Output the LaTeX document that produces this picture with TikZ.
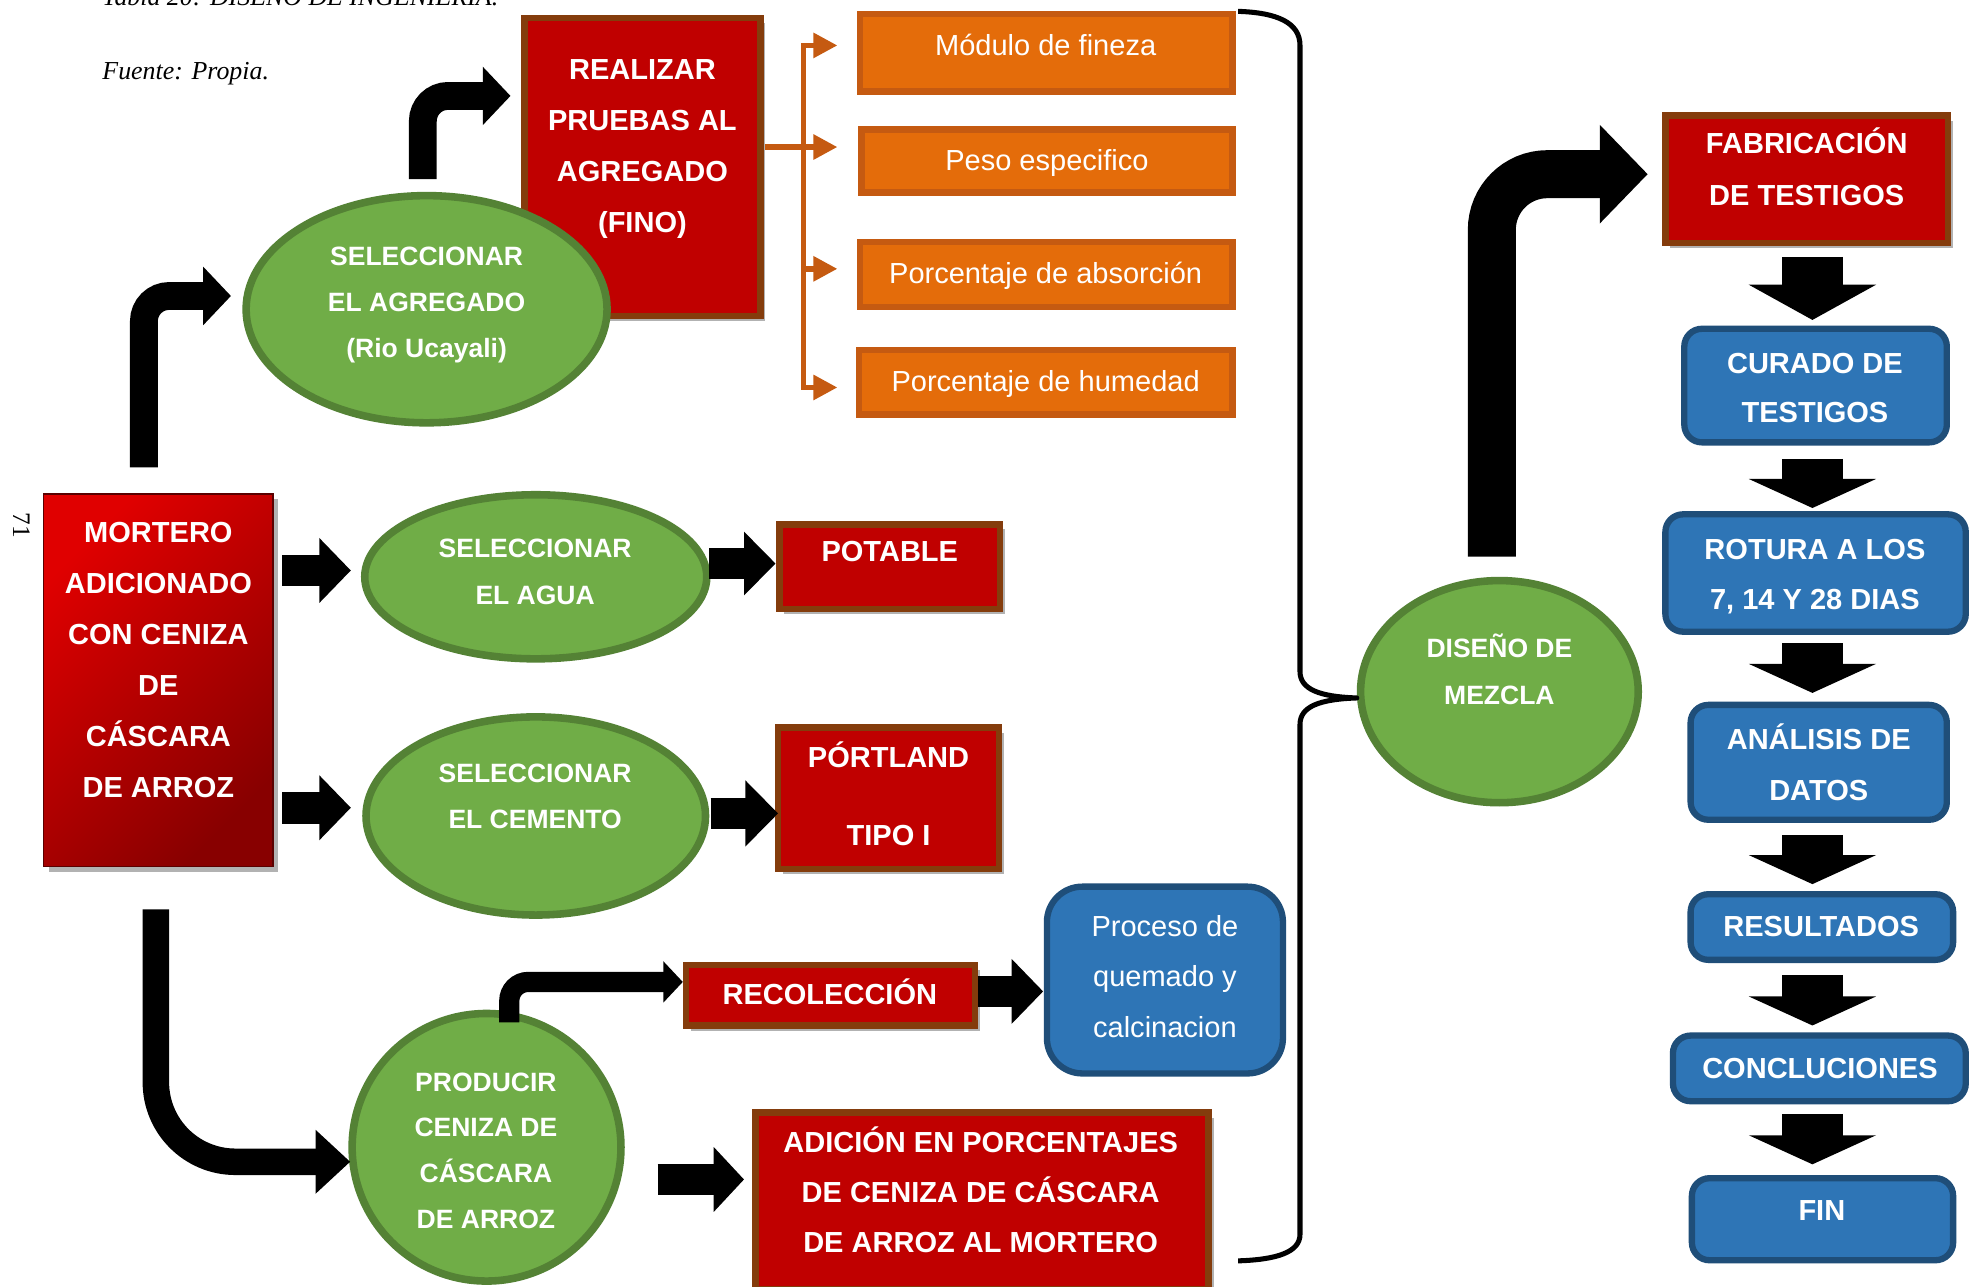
\documentclass[tikz,border=0pt]{standalone}
\usepackage{fontspec}
\newfontfamily\arialf{Liberation Sans}
\newfontfamily\tnrf{Liberation Serif}
\usetikzlibrary{shapes.geometric,arrows.meta,calc,shadows}
\definecolor{rd}{HTML}{C00000}
\definecolor{brn}{HTML}{843C0C}
\definecolor{grn}{HTML}{70AD47}
\definecolor{grnd}{HTML}{548235}
\definecolor{blu}{HTML}{2E75B6}
\definecolor{blud}{HTML}{1F4E79}
\definecolor{orf}{HTML}{E46C0A}
\definecolor{ord}{HTML}{C55A11}
\definecolor{mtop}{HTML}{E00000}
\definecolor{mbot}{HTML}{880000}
\definecolor{mbd}{HTML}{5A0000}
\begin{document}
\begin{tikzpicture}[x=1pt,y=-1pt,
  shd/.style={drop shadow={shadow xshift=4pt,shadow yshift=-4pt,opacity=0.3,fill=black}},
  rbox/.style={rectangle,draw=brn,line width=5pt,fill=rd,inner sep=0pt,shd},
  mbox/.style={rectangle,draw=mbd,line width=1.2pt,inner sep=0pt,top color=mtop,bottom color=mbot,shading angle=45,shd},
  gell/.style={ellipse,draw=grnd,line width=6pt,fill=grn,inner sep=0pt},
  bbox/.style={rectangle,draw=blud,line width=5pt,fill=blu,inner sep=0pt,rounded corners=14pt},
  obox/.style={rectangle,draw=ord,line width=5pt,fill=orf,inner sep=0pt},
  txt/.style={text=white,align=center,anchor=base,inner sep=0pt},
  tb/.style={txt,font=\arialf\bfseries\fontsize{23}{#1}\selectfont},
  tb/.default=40,
  te/.style={txt,font=\arialf\bfseries\fontsize{21}{#1}\selectfont},
  te/.default=37,
  tr/.style={txt,font=\arialf\fontsize{23}{#1}\selectfont},
  tr/.default=40,
  hdr/.style={inner sep=0pt,anchor=base west,font=\tnrf\itshape\fontsize{20.5}{24}\selectfont},
  blk/.style={draw=black,line cap=butt},
  oline/.style={draw=ord,line width=4.5pt},
  otip/.style={-{Triangle[width=19pt,length=19pt]}}
]
\useasboundingbox (0,0) rectangle (1568,1019);
\clip (0,0) rectangle (1568,1019);
\fill[white] (0,0) rectangle (1568,1019);

% header
\node[hdr] (cap) at (81,4) {Tabla 20: DISEÑO DE INGENIERIA.};
\node[hdr] (src) at (81,63) {Fuente: Propia.};
\node[inner sep=0pt,rotate=-90,font=\tnrf\fontsize{20}{22}\selectfont] (pg) at (17,416) {71};

% shapes
\node[rbox,minimum width=187pt,minimum height=236pt] (real) at (509,132.5) {};
\node[gell,minimum width=286pt,minimum height=180pt] (agr) at (338,245) {};
\node[mbox,minimum width=182pt,minimum height=295pt] (mort) at (125.5,539) {};
\node[gell,minimum width=271pt,minimum height=130pt] (agua) at (424.5,457) {};
\node[gell,minimum width=269pt,minimum height=157pt] (cem) at (424.5,646.5) {};
\node[rbox,minimum width=175pt,minimum height=67pt] (pot) at (705,449) {};
\node[rbox,minimum width=175pt,minimum height=112pt] (port) at (704,632.5) {};
\node[gell,minimum width=213pt,minimum height=212pt] (prod) at (385.5,909) {};
\node[rbox,minimum width=229pt,minimum height=48pt] (reco) at (658,788.5) {};
\node[bbox,rounded corners=28pt,minimum width=187pt,minimum height=148pt] (proc) at (923,776.5) {};
\node[rbox,minimum width=359pt,minimum height=140pt] (adic) at (778,951.5) {};
\node[obox,minimum width=295pt,minimum height=61.5pt] (ok1) at (829,41.75) {};
\node[obox,minimum width=294pt,minimum height=50pt] (ok2) at (829.5,127.5) {};
\node[obox,minimum width=295pt,minimum height=52pt] (ok3) at (829,217.5) {};
\node[obox,minimum width=296pt,minimum height=51pt] (ok4) at (828.5,303) {};
\node[gell,minimum width=220pt,minimum height=176pt] (dis) at (1188,548) {};
\node[rbox,minimum width=224pt,minimum height=101pt] (fab) at (1431.5,142) {};
\node[bbox,minimum width=208pt,minimum height=90pt] (cur) at (1438.5,305.5) {};
\node[bbox,minimum width=238pt,minimum height=93pt] (rot) at (1438.5,454) {};
\node[bbox,minimum width=203pt,minimum height=91pt] (ana) at (1441,604) {};
\node[bbox,minimum width=208pt,minimum height=52pt] (res) at (1443.5,734.5) {};
\node[bbox,minimum width=232pt,minimum height=52pt] (con) at (1441.5,846.5) {};
\node[bbox,minimum width=207pt,minimum height=65pt] (fin) at (1444,966) {};

% texts (anchor = baseline of the last line)
\node[tb=40.3] (t1) at (509,184) {REALIZAR\\PRUEBAS AL\\AGREGADO\\(FINO)};
\node[te=36.6] (t2) at (338,283.2) {SELECCIONAR\\EL AGREGADO\\(Rio Ucayali)};
\node[tb=40.4] (t3) at (125.5,631.5) {MORTERO\\ADICIONADO\\CON CENIZA\\DE\\CÁSCARA\\DE ARROZ};
\node[te=37.5] (t4) at (424,479) {SELECCIONAR\\EL AGUA};
\node[te=36.5] (t5) at (424,656.5) {SELECCIONAR\\EL CEMENTO};
\node[tb] (t6) at (705,445) {POTABLE};
\node[tb] (t7) at (704,670) {PÓRTLAND\\[22pt]TIPO I};
\node[te=36.2] (t8) at (385,973.1) {PRODUCIR\\CENIZA DE\\CÁSCARA\\DE ARROZ};
\node[tb] (t9) at (657.5,795.5) {RECOLECCIÓN};
\node[tr] (t10) at (923,822) {Proceso de\\quemado y\\calcinacion};
\node[tb=39.5] (t11) at (777,992) {ADICIÓN EN PORCENTAJES\\DE CENIZA DE CÁSCARA\\DE ARROZ AL MORTERO};
\node[tr] (t12) at (828.5,43.6) {Módulo de fineza};
\node[tr] (t13) at (829.5,135) {Peso especifico};
\node[tr] (t14) at (828.5,224.5) {Porcentaje de absorción};
\node[tr] (t15) at (828.5,310) {Porcentaje de humedad};
\node[te=37.4] (t16) at (1188,558) {DISEÑO DE\\MEZCLA};
\node[tb=40.6] (t17) at (1431.5,162.6) {FABRICACIÓN\\DE TESTIGOS};
\node[tb=39] (t18) at (1438,335) {CURADO DE\\TESTIGOS};
\node[tb] (t19) at (1438,483) {ROTURA A LOS\\7, 14 Y 28 DIAS};
\node[tb=40.6] (t20) at (1441,634.6) {ANÁLISIS DE\\DATOS};
\node[tb] (t21) at (1443,742) {RESULTADOS};
\node[tb] (t22) at (1442,854.6) {CONCLUCIONES};
\node[tb] (t23) at (1443.5,967.4) {FIN};

% black block arrows
\draw[blk,line width=22pt,rounded corners=20pt,-{Triangle[width=45pt,length=22pt]}]
  ($(mort.north)+(-11.5,-20.5)$) |- ($(agr.west)+(-9,-10.5)$);
\draw[blk,line width=22pt,rounded corners=20pt,-{Triangle[width=45pt,length=22pt]}]
  ($(agr.north)+(-3,-10)$) |- ($(real.west)+(-8.5,-56.5)$);
\draw[blk,line width=25pt,-{Triangle[width=50pt,length=25pt]}]
  ($(mort.east)+(6.5,-87)$) -- ($(agua.west)+(-8,-5)$);
\draw[blk,line width=25pt,-{Triangle[width=50pt,length=25pt]}]
  ($(mort.east)+(6.5,101)$) -- ($(cem.west)+(-9,-6.5)$);
\draw[blk,line width=25pt,-{Triangle[width=49pt,length=25pt]}]
  ($(agua.east)+(-1,-10.5)$) -- ($(pot.west)+(-0.5,-2.5)$);
\draw[blk,line width=25pt,-{Triangle[width=51pt,length=26pt]}]
  ($(cem.east)+(1,-2)$) -- ($(port.west)+(2.5,12)$);
\draw[blk,line width=21pt,rounded corners=63pt,-{Triangle[width=49pt,length=27.5pt]}]
  ($(mort.south)+(-2,33.5)$) |- ($(prod.west)+(1.5,11.5)$);
\draw[blk,line width=16pt,rounded corners=15pt,-{Triangle[width=32pt,length=15.5pt]}]
  ($(prod.north)+(18,10)$) |- ($(reco.west)+(0,-10.5)$);
\draw[blk,line width=25pt,-{Triangle[width=50pt,length=25pt]}]
  ($(reco.east)+(-0.5,-3)$) -- ($(proc.west)+(-0.5,9)$);
\draw[blk,line width=25pt,-{Triangle[width=50pt,length=24pt]}]
  ($(prod.east)+(26,25.5)$) -- ($(adic.west)+(-6.5,-17)$);
\draw[blk,line width=38pt,rounded corners=44pt,-{Triangle[width=76pt,length=38pt]}]
  ($(dis.north)+(-6,-16)$) |- ($(fab.west)+(-11.5,-4)$);
\draw[blk,line width=48pt,-{Triangle[width=100pt,length=28pt]}]
  ($(fab.south)+(4.5,8.5)$) -- ($(cur.north)+(-2.5,-4.5)$);
\draw[blk,line width=48pt,-{Triangle[width=100pt,length=23pt]}]
  ($(cur.south)+(-2.5,10.5)$) -- ($(rot.north)+(-2.5,-2.5)$);
\draw[blk,line width=48pt,-{Triangle[width=100pt,length=23pt]}]
  ($(rot.south)+(-2.5,6.5)$) -- ($(ana.north)+(-5,-7)$);
\draw[blk,line width=48pt,-{Triangle[width=100pt,length=23pt]}]
  ($(ana.south)+(-5,9.5)$) -- ($(res.north)+(-7.5,-5.5)$);
\draw[blk,line width=48pt,-{Triangle[width=100pt,length=23pt]}]
  ($(res.south)+(-7.5,9.5)$) -- ($(con.north)+(-5.5,-5.5)$);
\draw[blk,line width=48pt,-{Triangle[width=100pt,length=23pt]}]
  ($(con.south)+(-5.5,7.5)$) -- ($(fin.north)+(-8,-8.5)$);

% orange connectors
\coordinate (tr1) at ($(ok1.west)+(-42.5,-5.75)$);
\coordinate (tr3) at ($(ok3.west)+(-42.5,-4.5)$);
\coordinate (tr4) at ($(ok4.west)+(-41.5,4)$);
\coordinate (feed) at ($(real.east)+(1.5,-16)$);
\draw[oline,otip] (tr4) -- (tr1) -- ($(ok1.west)+(-15.5,-5.75)$);
\draw[oline,otip] (tr1) -- (tr4) -- ($(ok4.west)+(-14.5,4)$);
\draw[oline,otip] (tr3) -- ($(ok3.west)+(-15.5,-4.5)$);
\draw[oline,otip] (feed) -- ($(ok2.west)+(-16.5,-11)$);

% brace
\coordinate (cusp) at ($(dis.west)+(0,5)$);
\draw[line width=4pt,line join=round]
  (981,9) .. controls (1012,10) and (1030,18) .. (1030,36) -- (1030,532)
  .. controls (1030,546) and (1045,552) .. (cusp)
  .. controls (1045,554) and (1030,560) .. (1030,574) -- (1030,978)
  .. controls (1030,992) and (1012,998) .. (981,999);
\end{tikzpicture}
\end{document}
